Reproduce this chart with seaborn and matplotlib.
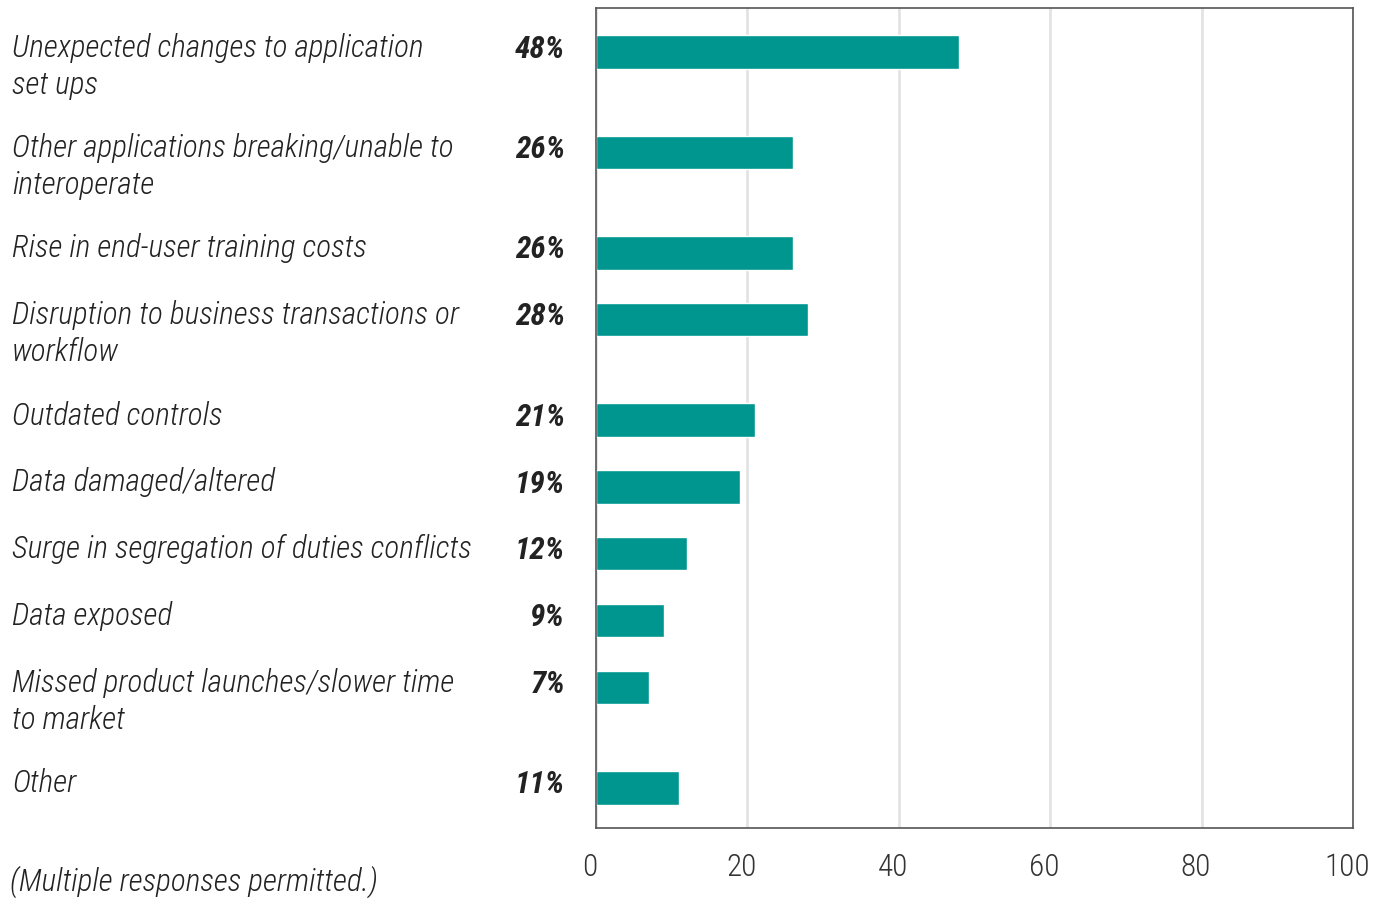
import numpy as np
import pandas as pd
import seaborn as sns
import matplotlib.pyplot as plt
import matplotlib.transforms as mtransforms
from matplotlib import font_manager

labels = [
    "Unexpected changes to application\nset ups",
    "Other applications breaking/unable to\ninteroperate",
    "Rise in end-user training costs",
    "Disruption to business transactions or\nworkflow",
    "Outdated controls",
    "Data damaged/altered",
    "Surge in segregation of duties conflicts",
    "Data exposed",
    "Missed product launches/slower time\nto market",
    "Other",
]
values = [48, 26, 26, 28, 21, 19, 12, 9, 7, 11]
xticks = [0, 20, 40, 60, 80, 100]
footnote = "(Multiple responses permitted.)"

# rows with two-line labels take more vertical room
steps = [1 + 0.5 * (lab.count("\n")) for lab in labels]
ypos = np.concatenate([[0], np.cumsum(steps[:-1])])

df = pd.DataFrame({"label": labels, "value": values, "y": ypos})

sns.set_theme(style="white")

# pick a condensed face if there is one
names = {f.name for f in font_manager.fontManager.ttflist}
condensed = [f.name for f in font_manager.fontManager.ttflist
             if "ondensed" in f.name or "Narrow" in f.name
             or str(f.stretch) in ("condensed", "semi-condensed", "extra-condensed")]
choice = None
for cand in ["Roboto Condensed", "Liberation Sans Narrow", "Open Sans Condensed",
             "Noto Sans Condensed", "DejaVu Sans Condensed"]:
    if cand in names:
        choice = cand
        break
if choice is None and condensed:
    choice = condensed[0]
if choice is None:
    choice = "Roboto"
plt.rcParams["font.family"] = [choice, "DejaVu Sans"]
fs = 22.5 if choice != "Roboto" else 19.5

fig = plt.figure(figsize=(13.85, 8.99), dpi=100)
ax = fig.add_axes([596 / 1385, 1 - 828 / 899, (1353 - 596) / 1385, (828 - 8) / 899])

sns.barplot(data=df, x="value", y="y", orient="h", native_scale=True,
            color="#009690", saturation=1, width=0.5, ax=ax)

ax.set_xlim(0, 100)
ax.set_ylim(ypos[-1] + 0.6, -0.66)
ax.set_xticks(xticks)
ax.set_xticklabels([str(t) for t in xticks], fontsize=fs, color="#333333",
                   fontweight="light")
ax.tick_params(axis="x", length=0, pad=18)
shift = mtransforms.ScaledTranslation(-6 / 100, 0, fig.dpi_scale_trans)
for tl in ax.get_xticklabels():
    tl.set_transform(tl.get_transform() + shift)
ax.set_yticks([])
ax.set_xlabel("")
ax.set_ylabel("")
ax.grid(axis="x", color="#e3e3e3", linewidth=2)
ax.set_axisbelow(True)
for side in ["top", "right", "bottom", "left"]:
    ax.spines[side].set_visible(True)
    ax.spines[side].set_color("#555555")
    ax.spines[side].set_linewidth(1.2)

trans = mtransforms.blended_transform_factory(fig.transFigure, ax.transData)
for lab, v, y in zip(labels, values, ypos):
    ax.text(12 / 1385, y - 0.29, lab, transform=trans, ha="left", va="top",
            fontsize=fs, fontstyle="italic", fontweight="light", color="#222222",
            linespacing=1.3)
    ax.text(565 / 1385, y - 0.26, f"{v}%", transform=trans, ha="right", va="top",
            fontsize=fs, fontstyle="italic", fontweight="bold", color="#222222")

fig.text(10 / 1385, 1 - 882 / 899, footnote, ha="left", va="center",
         fontsize=fs, fontstyle="italic", fontweight="light", color="#222222")

fig.savefig("out.png", dpi=100)
